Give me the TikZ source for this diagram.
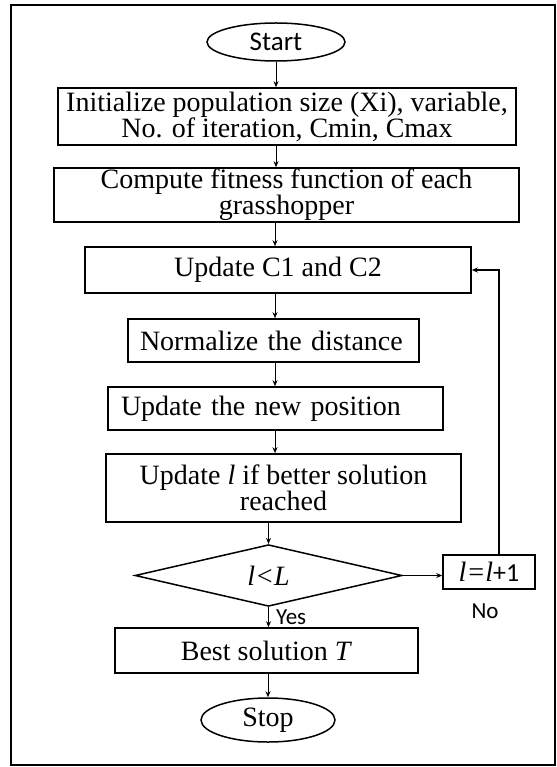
\documentclass[tikz,border=0pt]{standalone}
\usepackage{fontspec}
\setmainfont{Liberation Serif}
\setsansfont{Carlito}
\usetikzlibrary{arrows.meta,shapes.geometric,calc}

\begin{document}
\begin{tikzpicture}[x=1pt,y=-1pt,
  txt/.style={font=\fontsize{28}{26}\selectfont},
  box/.style={draw, line width=1.6pt, txt, inner sep=0pt, align=center},
  term/.style={draw, ellipse, line width=1.5pt, inner sep=0pt},
  flow/.style={line width=0.9pt, -{Stealth[length=6pt,width=5pt]}},
  note/.style={font=\sffamily\fontsize{23}{23}\selectfont, inner sep=0pt},
]
\useasboundingbox (0,0) rectangle (556,767);
% outer frame
\draw[line width=2pt] (555,5) -- (11,5) -- (11,765) -- (555,765) -- cycle;

% process nodes
\node[term, minimum width=138, minimum height=38,
      font=\sffamily\fontsize{27}{27}\selectfont] (start) at (276,42) {Start};
\node[box, minimum width=458, minimum height=57] (init) at (287,116.5)
  {Initialize population size (Xi), variable,\\No. of iteration, Cmin, Cmax};
\node[box, minimum width=465, minimum height=54] (comp) at (286.5,195)
  {Compute fitness function of each\\grasshopper};
\node[box, minimum width=386, minimum height=46] (upd) at (278,270)
  {Update C1 and C2};
\node[box, minimum width=291, minimum height=43, text width=267,
      align=left, inner xsep=12] (norm) at (273.5,340.5) {Normalize the distance};
\node[box, minimum width=335, minimum height=43, text width=309,
      align=left, inner xsep=13] (pos) at (275.5,408.5) {Update the new position};
\node[box, minimum width=355, minimum height=68] (upl) at (283.5,488)
  {Update \textit{l} if better solution\\reached};
\node[draw, diamond, line width=1.5pt, minimum width=267, minimum height=57,
      inner sep=0pt, txt] (dec) at (268.5,575.5) {\textit{l<L}};
\node[box, minimum width=92, minimum height=34] (inc) at (489,572)
  {\textit{l=l}{\sffamily\fontsize{26}{26}\selectfont +1}};
\node[box, minimum width=303, minimum height=45] (best) at (266.5,650.5)
  {Best solution \textit{T}};
\node[term, minimum width=134, minimum height=44, txt] (stop) at (268,720) {Stop};

% branch labels
\node[note, anchor=west] (yes) at (276,617) {Yes};
\node[note] (no) at (485,611) {No};

% connectors
\coordinate (spine) at (275,0);
\draw[flow] (start.south) -- (start.south |- init.north);
\draw[flow] (start.south |- init.south) -- (start.south |- comp.north);
\draw[flow] (spine |- comp.south) -- (spine |- upd.north);
\draw[flow] (spine |- upd.south) -- (spine |- norm.north);
\draw[flow] (spine |- norm.south) -- (spine |- pos.north);
\draw[flow] (spine |- pos.south) -- (spine |- upl.north);
\draw[flow] (dec.north |- upl.south) -- (dec.north);
\draw[flow] (dec.south) -- (dec.south |- best.north);
\draw[flow] (stop.north |- best.south) -- (stop.north);
\draw[flow] (dec.east) -- (dec.east -| inc.west);
\coordinate (loop) at ($(inc.north)+(10,0)$);
\draw[flow, line width=1.5pt] (loop) |- (upd.east);
\end{tikzpicture}
\end{document}
